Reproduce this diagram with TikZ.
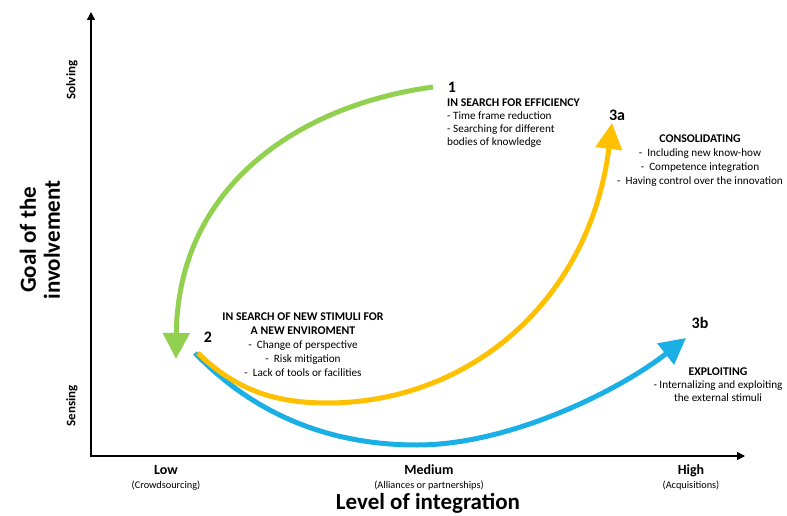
\documentclass[tikz,border=0pt]{standalone}
\usepackage{fontspec}
\setmainfont{Carlito}
\usetikzlibrary{arrows.meta,positioning}
\definecolor{effGreen}{HTML}{92D050}
\definecolor{consOrange}{HTML}{FFC000}
\definecolor{explBlue}{HTML}{1AB0E6}
\newcommand{\stagehead}[1]{{\fontsize{11.8}{14}\selectfont\bfseries #1}}

\begin{document}
\begin{tikzpicture}[
    x=1pt, y=-1pt,
    every node/.style={inner sep=0pt, font=\fontsize{11.2}{14}\selectfont},
    num/.style={font=\fontsize{16}{16}\selectfont\bfseries},
    note/.style={align=center, font=\fontsize{11.2}{14}\selectfont},
    tick/.style={font=\fontsize{14}{14}\selectfont\bfseries,
                 text height=10pt, text depth=3pt},
    sub/.style={font=\fontsize{10.3}{11}\selectfont,
                text height=7.5pt, text depth=2.5pt},
    side/.style={font=\fontsize{13}{13}\selectfont\bfseries, rotate=90},
    axtitle/.style={font=\fontsize{23}{24}\selectfont\bfseries, align=center},
    axis/.style={{Triangle[length=8pt,width=8pt]}-{Triangle[length=8pt,width=8pt]},
                 line width=1.4pt},
    flow/.style={-{Triangle[length=26pt,width=26pt]}, line width=5pt},
  ]
  \useasboundingbox (0,0) rectangle (787,516);

  % axes
  \coordinate (ytop) at (91,12);
  \coordinate (orig) at (91,456);
  \coordinate (xend) at (745,456);
  \draw[axis] (ytop) -- (orig) -- (xend);

  \node[axtitle, rotate=90] (ylab) at (40,240) {Goal of the\\involvement};
  \node[side] (solv) at (72,80) {Solving};
  \node[side] (sens) at (72,406) {Sensing};

  \node[tick] (low) at (166,471) {Low};
  \node[sub, below=3pt of low] (lowsub) {(Crowdsourcing)};
  \node[tick] (med) at (429,471) {Medium};
  \node[sub, below=3pt of med] (medsub) {(Alliances or partnerships)};
  \node[tick] (high) at (691,471) {High};
  \node[sub, below=3pt of high] (highsub) {(Acquisitions)};
  \node[axtitle] (xlab) at (428,503) {Level of integration};

  % stages
  \node[num] (n1) at (452,87) {1};
  \node[note, align=left, font=\fontsize{11.2}{13}\selectfont, anchor=north west] (eff) at (447,99)
    {\stagehead{IN SEARCH FOR EFFICIENCY}\\- Time frame reduction\\- Searching for different\\bodies of knowledge};

  \node[num] (n2) at (208,337) {2};
  \node[note, anchor=north] (stim) at (303,313)
    {\stagehead{IN SEARCH OF NEW STIMULI FOR}\\\stagehead{A NEW ENVIROMENT}\\-~ Change of perspective\\-~ Risk mitigation\\-~ Lack of tools or facilities};

  \node[num] (n3a) at (617,115) {3a};
  \node[note, anchor=north] (cons) at (700,135)
    {\stagehead{CONSOLIDATING}\\-~ Including new know-how\\-~ Competence integration\\-~ Having control over the innovation};

  \node[num] (n3b) at (700,323) {3b};
  \node[note, font=\fontsize{11.2}{13}\selectfont, anchor=north] (expl) at (718,368)
    {\stagehead{EXPLOITING}\\- Internalizing and exploiting\\the external stimuli};

  % flows between the stages
  \coordinate (g0) at (433,87);
  \coordinate (g1) at (176,359);
  \coordinate (b0) at (195,353);
  \coordinate (bbot) at (417,445);
  \coordinate (b1) at (686,338);
  \coordinate (o0) at (198,353);
  \coordinate (obot) at (327,403);
  \coordinate (o1) at (612,123);

  \draw[flow, effGreen] (g0) .. controls (300,105) and (178,185) .. (g1);
  \draw[flow, explBlue] (b0) .. controls (255,415) and (330,445) .. (bbot)
    .. controls (510,445) and (620,390) .. (b1);
  \draw[flow, consOrange] (o0) .. controls (240,395) and (285,403) .. (obot)
    .. controls (470,403) and (590,300) .. (o1);
\end{tikzpicture}
\end{document}
